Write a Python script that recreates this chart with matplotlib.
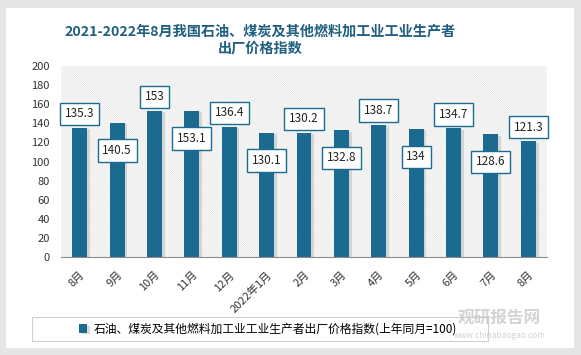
import matplotlib.pyplot as plt
from matplotlib.patches import Rectangle
import matplotlib.patheffects as pe

plt.rcParams['font.family'] = ['Noto Sans CJK SC', 'DejaVu Sans']
plt.rcParams['hatch.linewidth'] = 0.5

months = ['8月', '9月', '10月', '11月', '12月', '2022年1月', '2月', '3月',
          '4月', '5月', '6月', '7月', '8月']
values = [135.3, 140.5, 153, 153.1, 136.4, 130.1, 130.2, 132.8,
          138.7, 134, 134.7, 128.6, 121.3]
series_name = '石油、煤炭及其他燃料加工业工业生产者出厂价格指数(上年同月=100)'
title = '2021-2022年8月我国石油、煤炭及其他燃料加工业工业生产者\n出厂价格指数'

bar_color = '#1b6a8f'
title_color = '#1f5f7f'

fig = plt.figure(figsize=(5.81, 3.55), dpi=100, facecolor='#e6e6e6')
# white card
fig.patches.append(Rectangle((6 / 581, 7 / 355), 568 / 581, 340 / 355,
                             transform=fig.transFigure, facecolor='white',
                             edgecolor='none', zorder=-1))
# legend frame (wider than its content)
fig.patches.append(Rectangle((32 / 581, 1 - 341 / 355), 456 / 581, 24 / 355,
                             transform=fig.transFigure, facecolor='white',
                             edgecolor='#d0d0d0', linewidth=0.8, zorder=-0.5))

ax = fig.add_axes([61 / 581, 1 - 257 / 355, 486 / 581, 191 / 355])
ax.set_zorder(2)
ax.set_facecolor('none')
ax.add_patch(Rectangle((0, 0), 1, 1, transform=ax.transAxes, facecolor='white',
                       edgecolor='#e3e3e3', linewidth=0, hatch='\\' * 16, zorder=0))

x = list(range(len(values)))
bars = ax.bar(x, values, width=0.4, color=bar_color, zorder=2, label=series_name,
              path_effects=[pe.SimplePatchShadow(offset=(2, -1), shadow_rgbFace='#b8b8b8', alpha=0.5),
                            pe.Normal()])

for i, v in enumerate(values):
    dy = 10 if i % 2 == 0 else -20
    ax.annotate(f'{v:g}', (i, v), xytext=(0, dy), textcoords='offset points',
                ha='center', va='center', fontsize=8.5, color='#222222', zorder=4,
                bbox=dict(boxstyle='square,pad=0.4', facecolor='white',
                          edgecolor=bar_color, linewidth=1))

ax.set_xlim(-0.5, len(values) - 0.5)
ax.set_ylim(0, 200)
ax.set_yticks(range(0, 201, 20))
ax.set_xticks(x)
ax.set_xticklabels(months, rotation=45, ha='right', rotation_mode='anchor')
ax.tick_params(axis='both', length=0, labelsize=8, colors='#333333')
ax.tick_params(axis='x', pad=9)
ax.tick_params(axis='y', pad=8)
for s in ['top', 'right', 'left']:
    ax.spines[s].set_visible(False)
ax.spines['bottom'].set_color('#8c8c8c')

fig.text(260 / 581, 1 - 40 / 355, title, ha='center', va='center', fontsize=10.2,
         fontweight='bold', color=title_color, linespacing=1.35)

leg = fig.legend(handles=[bars], labels=[series_name], loc='center',
                 bbox_to_anchor=(268 / 581, 1 - 329 / 355), fontsize=8.5,
                 frameon=False, handlelength=0.7, handleheight=0.7,
                 handletextpad=0.5)

# watermark
fig.text(0.86, 1 - 318 / 355, '观研报告网', ha='center', va='center', fontsize=12,
         fontweight='bold', color='#c8c8c8', alpha=0.8)
fig.text(0.86, 1 - 336 / 355, 'www.chinabaogao.com', ha='center', va='center',
         fontsize=6, color='#c8c8c8', alpha=0.8)

fig.savefig('out.png', dpi=100, facecolor=fig.get_facecolor())
